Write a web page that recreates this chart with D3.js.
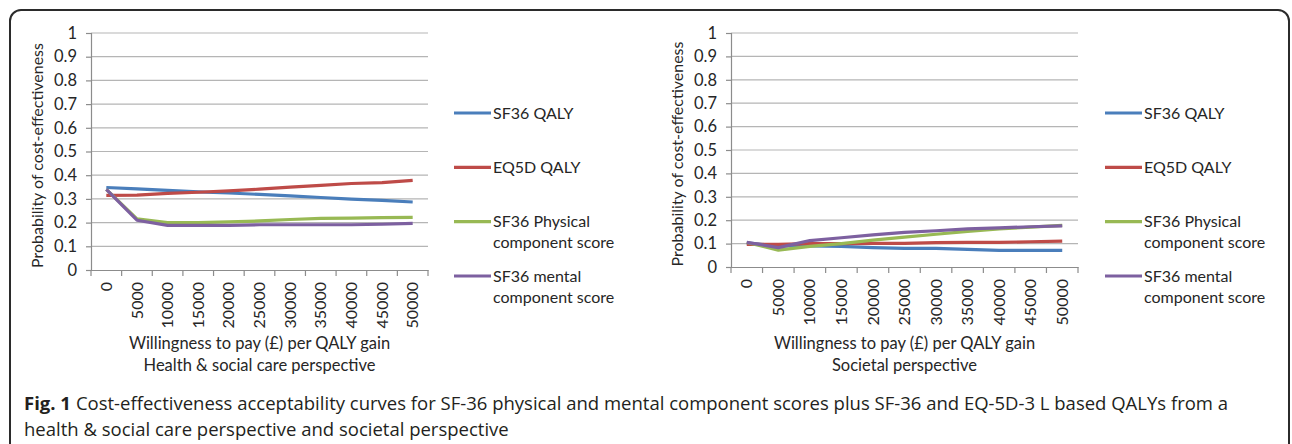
<!DOCTYPE html>
<html>
<head>
<meta charset="utf-8">
<script src="https://cdnjs.cloudflare.com/ajax/libs/d3/7.8.5/d3.min.js"></script>
<style>
  body { margin: 0; background: #fff; }
  svg { display: block; }
  .chart-text { font-family: Lato, "Liberation Sans", sans-serif; fill: #262626; }
  .caption { font-family: "Open Sans", "Noto Sans", sans-serif; fill: #231f20; }
</style>
</head>
<body>
<div id="figure"></div>
<script>
var svgWidth = 1292;
var svgHeight = 444;

// categories on the x axis (willingness to pay, £ per QALY)
var wtp = ["0", "5000", "10000", "15000", "20000", "25000", "30000", "35000", "40000", "45000", "50000"];
var yTicks = [0, 0.1, 0.2, 0.3, 0.4, 0.5, 0.6, 0.7, 0.8, 0.9, 1];

var seriesNames = ["SF36 QALY", "EQ5D QALY", "SF36 Physical component score", "SF36 mental component score"];
var legendLines = [["SF36 QALY"], ["EQ5D QALY"], ["SF36 Physical", "component score"], ["SF36 mental", "component score"]];

// health & social care perspective
var healthSF36Qaly = [0.348, 0.342, 0.336, 0.330, 0.325, 0.319, 0.313, 0.306, 0.299, 0.294, 0.287];
var healthEQ5DQaly = [0.315, 0.316, 0.323, 0.328, 0.334, 0.341, 0.350, 0.357, 0.365, 0.369, 0.378];
var healthSF36Physical = [0.340, 0.216, 0.200, 0.200, 0.203, 0.207, 0.213, 0.218, 0.219, 0.221, 0.222];
var healthSF36Mental = [0.340, 0.210, 0.188, 0.188, 0.188, 0.191, 0.191, 0.191, 0.191, 0.193, 0.197];

// societal perspective
var socSF36Qaly = [0.103, 0.090, 0.090, 0.088, 0.083, 0.080, 0.080, 0.075, 0.071, 0.071, 0.071];
var socEQ5DQaly = [0.097, 0.097, 0.100, 0.100, 0.101, 0.101, 0.104, 0.105, 0.105, 0.108, 0.111];
var socSF36Physical = [0.105, 0.072, 0.088, 0.100, 0.115, 0.128, 0.140, 0.152, 0.163, 0.170, 0.178];
var socSF36Mental = [0.105, 0.083, 0.113, 0.125, 0.137, 0.148, 0.155, 0.163, 0.167, 0.172, 0.176];

var colors = ["#4a7ebb", "#be4b48", "#98b954", "#7d60a0"];

var captionBold = "Fig. 1";
var captionLines = [
  "Cost-effectiveness acceptability curves for SF-36 physical and mental component scores plus SF-36 and EQ-5D-3 L based QALYs from a",
  "health & social care perspective and societal perspective"
];

var svg = d3.select("#figure")
  .append("svg")
  .attr("width", svgWidth)
  .attr("height", svgHeight);

// rounded frame round the figure
svg.append("rect")
  .attr("x", 10)
  .attr("y", 10)
  .attr("width", 1279)
  .attr("height", 448)
  .attr("rx", 11)
  .attr("fill", "none")
  .attr("stroke", "#2b2b2b")
  .attr("stroke-width", 2);

function drawChart(cfg) {
  var g = svg.append("g");

  var x = d3.scaleBand()
    .domain(wtp)
    .range([cfg.left, cfg.right]);

  var y = d3.scaleLinear()
    .domain([0, 1])
    .range([cfg.bottom, cfg.top]);

  // gridlines
  g.selectAll(".grid")
    .data(yTicks.slice(1))
    .enter()
    .append("line")
    .attr("x1", cfg.left)
    .attr("x2", cfg.right)
    .attr("y1", d => y(d))
    .attr("y2", d => y(d))
    .attr("stroke", "#b5b5b5")
    .attr("stroke-width", 1.2);

  // y axis
  var leftAxis = d3.axisLeft(y)
    .tickValues(yTicks)
    .tickSize(5)
    .tickPadding(9)
    .tickFormat(d3.format("~g"));

  var yAxis = g.append("g")
    .attr("transform", `translate(${cfg.left}, 0)`)
    .call(leftAxis);
  yAxis.select(".domain").attr("stroke", "#8c8c8c").attr("stroke-width", 1.2);
  yAxis.selectAll(".tick line").attr("stroke", "#8c8c8c").attr("stroke-width", 1.2);
  yAxis.selectAll(".tick text")
    .attr("class", "chart-text")
    .style("font-size", "16.5px");

  // x axis: labels at the category centres, ticks between categories
  var bottomAxis = d3.axisBottom(x).tickSize(0).tickPadding(0);
  var xAxis = g.append("g")
    .attr("transform", `translate(0, ${cfg.bottom})`)
    .call(bottomAxis);
  xAxis.select(".domain").attr("stroke", "#8c8c8c").attr("stroke-width", 1.2);
  xAxis.selectAll(".tick text")
    .attr("class", "chart-text")
    .style("font-size", "16px")
    .attr("text-anchor", "end")
    .attr("transform", "translate(0, 12) rotate(-90)")
    .attr("x", 0)
    .attr("y", 0)
    .attr("dy", "0.35em");

  var edges = wtp.map(d => x(d)).concat([cfg.right]);
  xAxis.selectAll(".edge")
    .data(edges)
    .enter()
    .append("line")
    .attr("x1", d => d)
    .attr("x2", d => d)
    .attr("y1", 0)
    .attr("y2", 6)
    .attr("stroke", "#8c8c8c")
    .attr("stroke-width", 1.2);

  // curves
  var line = d3.line()
    .x((d, i) => x(wtp[i]) + x.bandwidth() / 2)
    .y(d => y(d));

  g.selectAll(".curve")
    .data(cfg.series)
    .enter()
    .append("path")
    .attr("d", d => line(d))
    .attr("fill", "none")
    .attr("stroke", (d, i) => colors[i])
    .attr("stroke-width", 3.2)
    .attr("stroke-linejoin", "round");

  // y axis title
  g.append("text")
    .attr("class", "chart-text")
    .attr("transform", `translate(${cfg.yTitleX}, ${(cfg.top + cfg.bottom) / 2 + 4}) rotate(-90)`)
    .attr("text-anchor", "middle")
    .style("font-size", "16px")
    .text("Probability of cost-effectiveness");

  // x axis title (two lines)
  var xTitle = g.append("text")
    .attr("class", "chart-text")
    .attr("text-anchor", "middle")
    .style("font-size", "16.5px");
  xTitle.append("tspan")
    .attr("x", (cfg.left + cfg.right) / 2)
    .attr("y", 349)
    .text("Willingness to pay (£) per QALY gain");
  xTitle.append("tspan")
    .attr("x", (cfg.left + cfg.right) / 2)
    .attr("y", 371)
    .text(cfg.subtitle);

  // legend
  var legendY = d3.scalePoint()
    .domain(seriesNames)
    .range([113, 276]);

  var legend = g.selectAll(".legend")
    .data(seriesNames)
    .enter()
    .append("g")
    .attr("transform", d => `translate(${cfg.legendX}, ${legendY(d)})`);

  legend.append("line")
    .attr("x1", 0)
    .attr("x2", 37)
    .attr("stroke", (d, i) => colors[i])
    .attr("stroke-width", 3.2);

  legend.append("text")
    .attr("class", "chart-text")
    .style("font-size", "16px")
    .selectAll("tspan")
    .data((d, i) => legendLines[i])
    .enter()
    .append("tspan")
    .attr("x", 39)
    .attr("y", (d, i) => i * 21)
    .attr("dy", "0.36em")
    .text(d => d);
}

drawChart({
  left: 91, right: 428, top: 33, bottom: 270,
  yTitleX: 43, legendX: 454,
  subtitle: "Health & social care perspective",
  series: [healthSF36Qaly, healthEQ5DQaly, healthSF36Physical, healthSF36Mental]
});

drawChart({
  left: 731, right: 1078, top: 33, bottom: 267,
  yTitleX: 683, legendX: 1105,
  subtitle: "Societal perspective",
  series: [socSF36Qaly, socEQ5DQaly, socSF36Physical, socSF36Mental]
});

// caption: bold figure number, then the rest of line one after it
var figLabel = svg.append("text")
  .attr("class", "caption")
  .attr("x", 24)
  .attr("y", 410)
  .attr("font-weight", "bold")
  .style("font-size", "18.5px")
  .text(captionBold);

var labelWidth = figLabel.node().getComputedTextLength();

svg.append("text")
  .attr("class", "caption")
  .attr("x", 24 + labelWidth + 5)
  .attr("y", 410)
  .style("font-size", "18.5px")
  .text(captionLines[0]);

svg.append("text")
  .attr("class", "caption")
  .attr("x", 24)
  .attr("y", 436)
  .style("font-size", "18.5px")
  .text(captionLines[1]);
</script>
</body>
</html>
